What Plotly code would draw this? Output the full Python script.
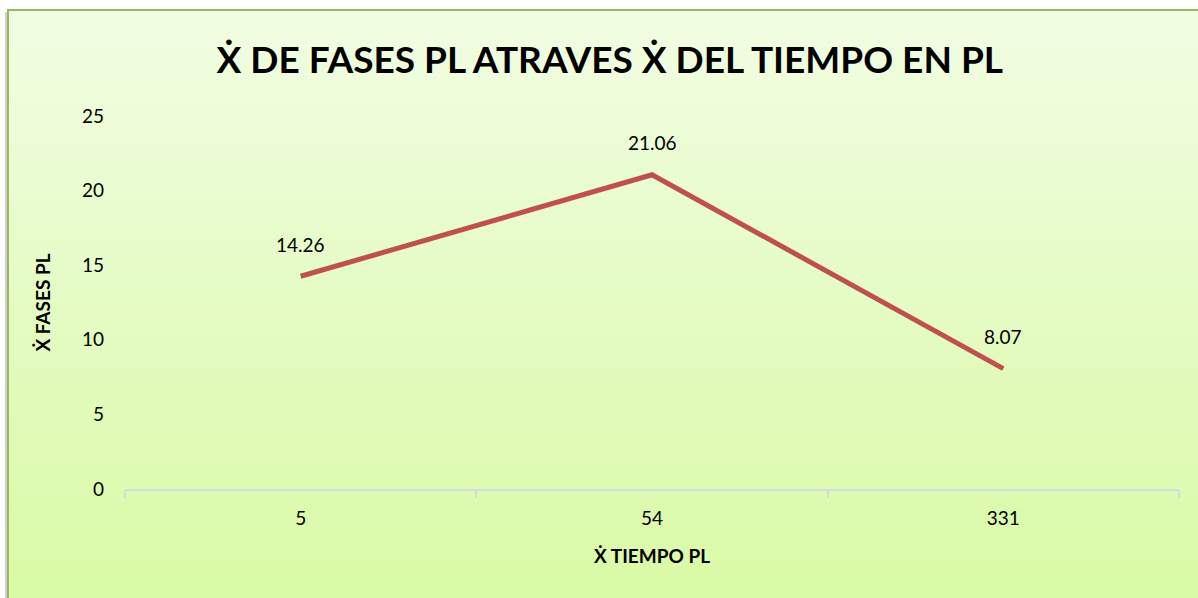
import plotly.graph_objects as go

# Chart data
tiempo = ["5", "54", "331"]
fases = [14.26, 21.06, 8.07]
y_ticks = [0, 5, 10, 15, 20, 25]

W, H = 1198, 598
ML, MR, MT, MB = 125, 19, 116, 109
PW, PH = W - ML - MR, H - MT - MB


def px(x):
    return (x - ML) / PW


def py(y):
    return (H - MB - y) / PH


fig = go.Figure()

fig.add_trace(go.Scatter(
    x=tiempo, y=fases,
    mode="lines",
    line=dict(color="#c0504d", width=5),
    hoverinfo="skip",
    showlegend=False,
))

# value labels above each point (category index on the x axis)
for idx, val in enumerate(fases):
    fig.add_annotation(
        x=idx, y=val, text=f"{val:.2f}", showarrow=False,
        yshift=32, font=dict(family="Lato", size=19, color="#000000"),
    )

# vertical gradient backdrop made of thin strips
shapes = []
top_c = (241, 253, 226)
bot_c = (217, 250, 166)
y0, y1 = 10, H + 2
n = 60
for i in range(n):
    t = i / (n - 1)
    c = tuple(round(top_c[k] + (bot_c[k] - top_c[k]) * t) for k in range(3))
    ya = y0 + (y1 - y0) * i / n
    yb = y0 + (y1 - y0) * (i + 1) / n + 1
    shapes.append(dict(
        type="rect", xref="paper", yref="paper", layer="below",
        x0=px(8), x1=px(W + 2), y0=py(yb), y1=py(ya),
        line=dict(width=0), fillcolor="rgb(%d,%d,%d)" % c,
    ))
# soft shadow on the left edge and the green frame
shapes.append(dict(type="line", xref="paper", yref="paper", layer="below",
                   x0=px(6), x1=px(6), y0=py(12), y1=py(H + 2),
                   line=dict(color="rgba(160,160,160,0.5)", width=2)))
shapes.append(dict(type="rect", xref="paper", yref="paper", layer="below",
                   x0=px(8), x1=px(W + 4), y0=py(H + 4), y1=py(10),
                   line=dict(color="#9bbb59", width=2), fillcolor="rgba(0,0,0,0)"))

fig.update_layout(
    width=W, height=H,
    margin=dict(l=ML, r=MR, t=MT, b=MB),
    paper_bgcolor="#ffffff",
    plot_bgcolor="rgba(0,0,0,0)",
    shapes=shapes,
    title=dict(
        text="<b>Ẋ DE FASES PL ATRAVES Ẋ DEL TIEMPO EN PL</b>",
        x=0.509, xanchor="center", y=1 - 60 / H, yanchor="middle",
        font=dict(family="Lato", size=37, color="#000000"),
    ),
    font=dict(family="Lato", color="#000000"),
)

fig.update_xaxes(
    type="category",
    categoryorder="array", categoryarray=tiempo,
    range=[-0.5, len(tiempo) - 0.5],
    showgrid=False,
    showline=True, linecolor="#d5dbe6", linewidth=2,
    ticks="outside", tickson="boundaries", ticklen=7, tickcolor="#d5dbe6", tickwidth=2,
    tickangle=0,
    tickfont=dict(family="Lato", size=19),
    ticklabelstandoff=11,
    title=dict(text="<b>Ẋ TIEMPO PL</b>", font=dict(family="Lato", size=19), standoff=22),
    zeroline=False,
)
fig.update_yaxes(
    range=[0, 25],
    tickvals=y_ticks,
    showgrid=False, showline=False, zeroline=False,
    ticks="",
    tickfont=dict(family="Lato", size=19),
    ticklabelstandoff=20,
    title=dict(text="<b>Ẋ FASES PL</b>", font=dict(family="Lato", size=19), standoff=26),
)

fig.write_html("out.html")
